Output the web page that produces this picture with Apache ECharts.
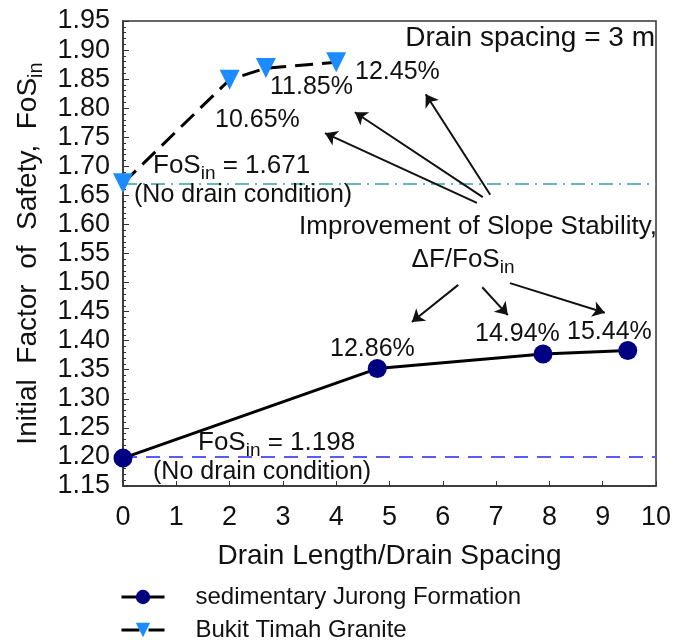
<!DOCTYPE html>
<html><head><meta charset="utf-8">
<script src="https://cdn.jsdelivr.net/npm/echarts@6/dist/echarts.min.js"></script>
<style>html,body{margin:0;padding:0;background:#fff}#c{width:684px;height:640px}</style>
</head><body><div id="c"></div>
<script>
// ---- data ----
const seriesNames = ['sedimentary Jurong Formation', 'Bukit Timah Granite'];
const xJurong = [0, 4.77, 7.88, 9.47];
const yJurong = [1.198, 1.352, 1.377, 1.383];
const xGranite = [0, 2, 2.68, 4];
const yGranite = [1.671, 1.849, 1.869, 1.879];
const baseJurong = 1.198;
const baseGranite = 1.671;
const pctJurong = ['12.86%', '14.94%', '15.44%'];
const pctGranite = ['10.65%', '11.85%', '12.45%'];
const xTicks = [0,1,2,3,4,5,6,7,8,9,10];
const yTicks = ['1.15','1.20','1.25','1.30','1.35','1.40','1.45','1.50','1.55','1.60','1.65','1.70','1.75','1.80','1.85','1.90','1.95'];
// arrows (data coords: [from, to])
const arrowsUpper = [[[6.64,1.637],[3.79,1.757]], [[6.75,1.647],[4.35,1.793]], [[6.89,1.651],[5.68,1.824]]];
const arrowsLower = [[[6.29,1.496],[5.42,1.432]], [[6.74,1.492],[7.22,1.444]], [[7.26,1.499],[9.04,1.448]]];

const FONT = 'Liberation Sans, Arial, sans-serif';
const chart = echarts.init(document.getElementById('c'), null, {renderer: 'canvas'});
function mkRich(fs) {
  return {
    a: {fontFamily: FONT, fontSize: fs, color: '#111', lineHeight: fs + 4},
    s: {fontFamily: FONT, fontSize: Math.round(fs * 0.72), color: '#111', padding: [Math.round(fs * 0.6), 0, 0, 0], lineHeight: fs + 4}
  };
}
function txt(x, y, t, fs, align) {
  return {type: 'text', x: x, y: y, style: {text: t, rich: mkRich(fs), fontFamily: FONT, fontSize: fs, fill: '#111', align: align || 'left', verticalAlign: 'middle'}, z: 10};
}
const arrowData = arrowsUpper.concat(arrowsLower).map(a => [{coord: a[0]}, {coord: a[1]}]);
function mkLegend(name, top) {
  return {
    orient: 'horizontal', left: 115, top: top,
    itemWidth: 43, itemHeight: 18,
    lineStyle: {width: 3, color: '#000'},
    textStyle: {fontFamily: FONT, fontSize: 24, color: '#111', padding: [0, 0, 0, 26]},
    data: [name]
  };
}

chart.setOption({
  animation: false,
  grid: {left: 123, right: 28, top: 21, bottom: 154, show: true, borderColor: '#333', borderWidth: 1.5},
  xAxis: {
    type: 'value', min: 0, max: 10, interval: 1,
    axisLine: {show: true, lineStyle: {color: '#333', width: 1.5}},
    axisTick: {show: true, inside: true, length: 5, lineStyle: {color: '#333'}},
    axisLabel: {fontFamily: FONT, fontSize: 27, color: '#111', margin: 18, formatter: v => String(xTicks[Math.round(v)])},
    splitLine: {show: false},
    name: 'Drain Length/Drain Spacing', nameLocation: 'middle', nameGap: 56,
    nameTextStyle: {fontFamily: FONT, fontSize: 28, color: '#111'}
  },
  yAxis: {
    type: 'value', min: 1.15, max: 1.95, interval: 0.05,
    axisLine: {show: true, lineStyle: {color: '#333', width: 1.5}},
    axisTick: {show: true, inside: true, length: 6, lineStyle: {color: '#333'}},
    minorTick: {show: true, splitNumber: 5, length: 3, lineStyle: {color: '#333'}},
    axisLabel: {fontFamily: FONT, fontSize: 27, color: '#111', margin: 13, formatter: v => yTicks[Math.round((v - 1.15) / 0.05)]},
    splitLine: {show: false},
    name: '{a|Initial  Factor  of  Safety,  FoS}{s|in}', nameLocation: 'middle', nameGap: 78, nameRotate: 90,
    nameTextStyle: {fontFamily: FONT, fontSize: 28, color: '#111', rich: {
      a: {fontFamily: FONT, fontSize: 28, color: '#111', lineHeight: 32},
      s: {fontFamily: FONT, fontSize: 20, color: '#111', padding: [16, 0, 0, 0], lineHeight: 32}
    }}
  },
  legend: [mkLegend(seriesNames[0], 580), mkLegend(seriesNames[1], 613)],
  series: [
    {
      name: seriesNames[0], type: 'line', data: xJurong.map((x, i) => [x, yJurong[i]]),
      symbol: 'circle', symbolSize: 19, itemStyle: {color: '#000080'},
      lineStyle: {color: '#000', width: 3}, z: 5,
      markLine: {silent: true, symbol: ['none', 'none'], label: {show: false},
        lineStyle: {color: '#5a5af5', type: [14, 9], width: 2}, data: [{yAxis: baseJurong}]}
    },
    {
      name: seriesNames[1], type: 'line', data: xGranite.map((x, i) => [x, yGranite[i]]),
      symbol: 'triangle', symbolRotate: 180, symbolSize: 20, itemStyle: {color: '#1a8cff'},
      lineStyle: {color: '#000', width: 3, type: [18, 9]}, z: 5,
      markLine: {silent: true, symbol: ['none', 'none'], label: {show: false},
        lineStyle: {color: '#3aa0a0', type: [14, 6, 2, 6], width: 1.5}, data: [{yAxis: baseGranite}]}
    },
    {
      name: 'arrows', type: 'line', data: [],
      markLine: {silent: true, symbol: ['none', 'arrow'], symbolSize: 12, label: {show: false},
        lineStyle: {color: '#111', type: 'solid', width: 2}, data: arrowData}
    }
  ],
  graphic: [
    txt(655, 38, '{a|Drain spacing = 3 m}', 28, 'right'),
    txt(355, 72, '{a|' + pctGranite[2] + '}', 25),
    txt(270, 87, '{a|' + pctGranite[1] + '}', 25),
    txt(215, 120, '{a|' + pctGranite[0] + '}', 25),
    txt(153, 166, '{a|FoS}{s|in}{a| = 1.671}', 26),
    txt(134, 195, '{a|(No drain condition)}', 25),
    txt(478, 227, '{a|Improvement of Slope Stability,}', 26, 'center'),
    txt(463, 260, '{a|ΔF/FoS}{s|in}', 26, 'center'),
    txt(330, 349, '{a|' + pctJurong[0] + '}', 25),
    txt(475, 334, '{a|' + pctJurong[1] + '}', 25),
    txt(567, 332, '{a|' + pctJurong[2] + '}', 25),
    txt(198, 443, '{a|FoS}{s|in}{a| = 1.198}', 26),
    txt(153, 472, '{a|(No drain condition)}', 25)
  ]
});
</script></body></html>
